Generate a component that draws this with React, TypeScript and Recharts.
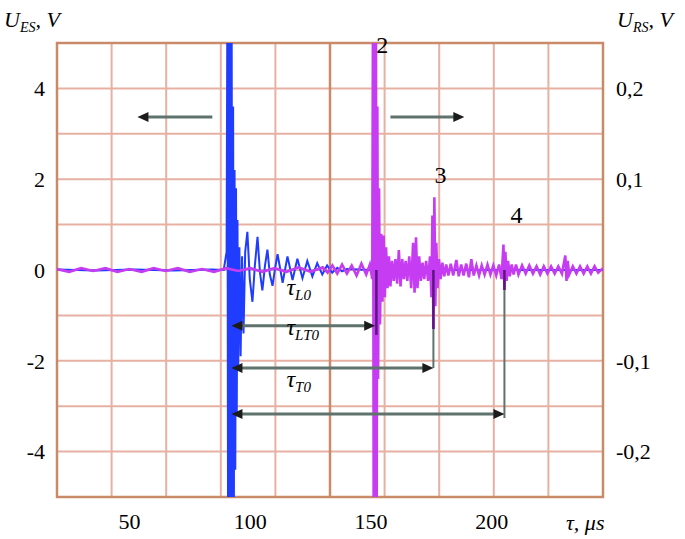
import {
  LineChart,
  Line,
  XAxis,
  YAxis,
  CartesianGrid,
  ReferenceLine,
  ReferenceArea,
  ReferenceDot,
} from "recharts";

// time axis, microseconds
const timeDomain: [number, number] = [20, 246];
const timeTicks = [50, 100, 150, 200];
const gridTicks = Array.from({ length: 11 }, (_, i) => timeDomain[0] + (i * (timeDomain[1] - timeDomain[0])) / 10);

// left axis U_ES (V), right axis U_RS (V)
const esTicks = [-5, -4, -3, -2, -1, 0, 1, 2, 3, 4, 5];
const esLabelled = [-4, -2, 0, 2, 4];
const rsTicks = [-0.2, -0.1, 0.1, 0.2];

// emitter signal [t, U_ES]
const esSamples: [number, number][] = [
  [20, 0.01], [36, -0.01], [52, 0.01], [68, -0.01], [84, 0.01], [89, 0], [90.2, 0.4],
  [90.5, 5.6], [90.8, -5.6], [91.1, 5.6], [91.4, -5.6], [91.7, 5.6], [92.0, -5.6], [92.3, 5.4],
  [92.6, -5.6], [92.9, 3.6], [93.2, -5.6], [93.5, 2.2], [93.8, -4.4], [94.1, 1.8], [94.4, -3.2],
  [94.7, 1.1], [95.0, -2.2], [95.5, 0.5], [96.0, -1.9], [96.6, 0.3], [97.2, -1.4], [97.9, 0.4],
  [98.8, 0.84], [99.8, -0.2], [100.9, -0.7], [101.9, 0.1], [103.0, 0.73], [104.0, -0.05],
  [105.0, -0.45], [106.1, 0.1], [107.1, 0.45], [108.1, -0.1], [109.2, -0.35], [110.3, 0.05],
  [111.3, 0.35], [113.4, -0.28], [115.4, 0.3], [117.5, -0.22], [119.5, 0.25], [121.6, -0.18],
  [123.6, 0.2], [125.7, -0.14], [127.7, 0.15], [129.8, -0.1], [131.8, 0.1], [133.9, -0.06],
  [136, 0.05], [138, -0.03], [140, 0.02], [150, 0], [246, 0],
];

// receiver signal [t, U_RS]
const rsSamples: [number, number][] = [
  [20, 0.001], [25, -0.002], [30, 0.002], [35, -0.001], [40, 0.002], [45, -0.002], [50, 0.001],
  [55, -0.002], [60, 0.002], [65, -0.001], [70, 0.002], [75, -0.002], [80, 0.001], [85, -0.002],
  [90, 0.002], [95, -0.001], [100, 0.002], [105, -0.002], [110, 0.002], [115, -0.002], [120, 0.003],
  [125, -0.002], [130, 0.003], [132, -0.003], [134, 0.005], [136, -0.004], [138, 0.006], [140, -0.004],
  [142, 0.005], [144, -0.006], [146, 0.007], [148, -0.005], [149.5, 0.006], [150.5, -0.01],
  [150.8, 0.3], [151.1, -0.3], [151.4, 0.3], [151.7, -0.3], [152.0, 0.3], [152.3, -0.3],
  [152.6, 0.18], [152.9, -0.12], [153.3, 0.09], [153.7, -0.06],
  [154.2, 0.04], [154.7, -0.035], [155.2, 0.038], [155.7, -0.03], [156.2, 0.025], [156.8, -0.02],
  [157.4, 0.015], [158, -0.018], [158.7, 0.01], [159.4, -0.012], [160.1, 0.012], [160.8, -0.015],
  [161.5, 0.022], [162.2, -0.018], [162.9, 0.012], [163.6, -0.01], [164.3, 0.01], [165.0, -0.012],
  [165.8, 0.015], [166.6, -0.02], [167.4, 0.03], [168.0, -0.025], [168.6, 0.036], [169.2, -0.02],
  [169.9, 0.015], [170.6, -0.012], [171.3, 0.008], [172.0, -0.01], [172.8, 0.01], [173.6, -0.012],
  [174.4, 0.015], [175.0, -0.03], [175.4, 0.06], [175.8, -0.065], [176.2, 0.08], [176.6, -0.04],
  [177.0, 0.03], [177.5, -0.02], [178.1, 0.012], [178.8, -0.01], [179.5, 0.008], [180.3, -0.007],
  [181.1, 0.006], [182, -0.006], [183, 0.007], [184, -0.006], [185.3, 0.011], [186.3, -0.007],
  [187.3, 0.006], [188.3, -0.006], [189.4, 0.007], [190.5, -0.008], [191.5, 0.012], [192.5, -0.006],
  [193.6, 0.005], [194.7, -0.006], [195.8, 0.005], [197, -0.005], [198.2, 0.006], [199.4, -0.005],
  [200.6, 0.005], [201.8, -0.006], [203, 0.006], [204, -0.01], [204.8, 0.028], [205.2, -0.022],
  [205.6, 0.02], [206.1, -0.012], [206.7, 0.01], [207.4, -0.007], [208.2, 0.006], [209, -0.005],
  [210, 0.006], [211, -0.005], [212.5, 0.005], [214, -0.004], [215.5, 0.005], [217, -0.004],
  [218.5, 0.004], [220, -0.005], [221.5, 0.004], [223, -0.004], [224.5, 0.004], [226, -0.004],
  [227.5, 0.004], [229, -0.004], [230.4, 0.016], [230.9, -0.012], [231.4, 0.01], [232, -0.005],
  [233.5, 0.004], [235, -0.004], [236.5, 0.004], [238, -0.004], [239.5, 0.004], [241, -0.004],
  [242.5, 0.004], [244, -0.003], [246, 0.002],
];

// annotations (es units on y)
const directionArrows = [
  { x1: 84.3, x2: 53.3, y: 3.37 },
  { x1: 158, x2: 188.6, y: 3.37 },
];
const delayArrows = [
  { x1: 92.2, x2: 151.7, y: -1.23 },
  { x1: 92.2, x2: 175.8, y: -2.16 },
  { x1: 92.2, x2: 205.2, y: -3.17 },
];
const connectors = [
  { x: 175.8, y1: -1.3, y2: -2.16 },
  { x: 205.2, y1: -0.44, y2: -3.26 },
];
const onsetMarks = [
  { x: 152.2, y2: -1.43 },
  { x: 175.8, y2: -1.3 },
  { x: 205.2, y2: -0.44 },
];
const peakLabels = [
  { x: 154.6, y: 4.96, text: "2" },
  { x: 178.7, y: 2.09, text: "3" },
  { x: 210.2, y: 1.21, text: "4" },
];
const delayLabels = [
  { x: 115, y: -0.55, sub: "L0" },
  { x: 115, y: -1.43, sub: "LT0" },
  { x: 115, y: -2.58, sub: "T0" },
];

const serif = '"Liberation Serif", "Times New Roman", serif';
const gridColor = "#e6b1a2";
const frameColor = "#c98a68";
const arrowColor = "#5f726d";

const esData = esSamples.map(([t, v]) => ({ t, v }));
const rsData = rsSamples.map(([t, v]) => ({ t, v }));

const arrowShape = (both: boolean) => (props: any) => {
  const { x1, y1, x2, y2 } = props;
  const dx = x2 - x1;
  const dy = y2 - y1;
  const len = Math.hypot(dx, dy) || 1;
  const ux = dx / len;
  const uy = dy / len;
  const head = (tx: number, ty: number, dirx: number, diry: number) => {
    const bx = tx - dirx * 11;
    const by = ty - diry * 11;
    return `${tx},${ty} ${bx - diry * 5},${by + dirx * 5} ${bx + diry * 5},${by - dirx * 5}`;
  };
  return (
    <g>
      <line
        x1={both ? x1 + ux * 8 : x1}
        y1={both ? y1 + uy * 8 : y1}
        x2={x2 - ux * 8}
        y2={y2 - uy * 8}
        stroke={arrowColor}
        strokeWidth={3}
      />
      <polygon points={head(x2, y2, ux, uy)} fill="#1c1c1c" />
      {both && <polygon points={head(x1, y1, -ux, -uy)} fill="#1c1c1c" />}
    </g>
  );
};

const TimeTick = (props: any) => {
  const { x, y, payload } = props;
  return (
    <text x={x} y={y} dy={32} textAnchor="middle" fill="#000" fontSize={22} fontFamily={serif}>
      {payload.value}
    </text>
  );
};

const App = () => {
  return (
    <div style={{ position: "absolute", left: 0, top: 0, width: 685, height: 539, background: "#fff" }}>
      <LineChart width={685} height={539} margin={{ top: 43, right: 0, bottom: 0, left: 0 }}>
        <CartesianGrid
          xAxisId="grid"
          yAxisId="es"
          stroke={gridColor}
          strokeWidth={2}
        />
        <XAxis
          xAxisId="main"
          type="number"
          dataKey="t"
          domain={timeDomain}
          ticks={timeTicks}
          allowDataOverflow
          axisLine={false}
          tickLine={false}
          tickSize={0}
          tickMargin={0}
          height={42}
          tick={<TimeTick />}
        />
        <XAxis
          xAxisId="grid"
          type="number"
          dataKey="t"
          domain={timeDomain}
          ticks={gridTicks}
          hide
          height={0}
          allowDataOverflow
        />
        <YAxis
          yAxisId="es"
          domain={[-5, 5]}
          ticks={esTicks}
          allowDataOverflow
          width={57}
          axisLine={false}
          tickLine={false}
          tickSize={0}
          tickMargin={12}
          tickFormatter={(v: number) => (esLabelled.includes(v) ? String(v) : "")}
          tick={{ fill: "#000", fontSize: 22, fontFamily: serif }}
        />
        <YAxis
          yAxisId="rs"
          orientation="right"
          domain={[-0.25, 0.25]}
          ticks={rsTicks}
          allowDataOverflow
          width={82}
          axisLine={false}
          tickLine={false}
          tickSize={0}
          tickMargin={13}
          tickFormatter={(v: number) => String(v).replace(".", ",")}
          tick={{ fill: "#000", fontSize: 22, fontFamily: serif, textAnchor: "start" }}
        />
        <ReferenceLine xAxisId="main" yAxisId="es" x={133} stroke={frameColor} strokeWidth={2.5} />
        <ReferenceArea
          xAxisId="main"
          yAxisId="es"
          x1={timeDomain[0]}
          x2={timeDomain[1]}
          y1={-5}
          y2={5}
          fill="none"
          stroke={frameColor}
          strokeWidth={2.5}
        />
        <Line
          xAxisId="main"
          yAxisId="es"
          data={esData}
          dataKey="v"
          type="linear"
          stroke="#1f3cff"
          strokeWidth={2}
          dot={false}
          isAnimationActive={false}
        />
        <Line
          xAxisId="main"
          yAxisId="rs"
          data={rsData}
          dataKey="v"
          type="linear"
          stroke="#c63cf2"
          strokeWidth={2.6}
          dot={false}
          isAnimationActive={false}
        />
        {onsetMarks.map((m, i) => (
          <ReferenceLine
            key={`m${i}`}
            xAxisId="main"
            yAxisId="es"
            segment={[{ x: m.x, y: 0 }, { x: m.x, y: m.y2 }]}
            stroke="#5b1580"
            strokeWidth={2.5}
          />
        ))}
        {connectors.map((c, i) => (
          <ReferenceLine
            key={`c${i}`}
            xAxisId="main"
            yAxisId="es"
            segment={[{ x: c.x, y: c.y1 }, { x: c.x, y: c.y2 }]}
            stroke={arrowColor}
            strokeWidth={2}
          />
        ))}
        {directionArrows.map((a, i) => (
          <ReferenceLine
            key={`d${i}`}
            xAxisId="main"
            yAxisId="es"
            segment={[{ x: a.x1, y: a.y }, { x: a.x2, y: a.y }]}
            shape={arrowShape(false)}
          />
        ))}
        {delayArrows.map((a, i) => (
          <ReferenceLine
            key={`a${i}`}
            xAxisId="main"
            yAxisId="es"
            segment={[{ x: a.x1, y: a.y }, { x: a.x2, y: a.y }]}
            shape={arrowShape(true)}
          />
        ))}
        {peakLabels.map((p, i) => (
          <ReferenceDot
            key={`p${i}`}
            xAxisId="main"
            yAxisId="es"
            x={p.x}
            y={p.y}
            r={0}
            shape={(props: any) => (
              <text
                x={props.cx}
                y={props.cy}
                textAnchor="middle"
                dominantBaseline="central"
                fontSize={24}
                fontFamily={serif}
                fill="#000"
              >
                {p.text}
              </text>
            )}
          />
        ))}
        {delayLabels.map((d, i) => (
          <ReferenceDot
            key={`l${i}`}
            xAxisId="main"
            yAxisId="es"
            x={d.x}
            y={d.y}
            r={0}
            shape={(props: any) => (
              <text x={props.cx} y={props.cy} fontFamily={serif} fontStyle="italic" fill="#000" fontSize={24}>
                τ
                <tspan fontSize={15} dy={5}>
                  {d.sub}
                </tspan>
              </text>
            )}
          />
        ))}
      </LineChart>
      <svg
        width={685}
        height={539}
        style={{ position: "absolute", left: 0, top: 0, pointerEvents: "none" }}
      >
        <text x={4} y={27} fontFamily={serif} fontStyle="italic" fontSize={22} fill="#000">
          U<tspan fontSize={14} dy={5}>ES</tspan>
          <tspan dy={-5}>, V</tspan>
        </text>
        <text x={617} y={27} fontFamily={serif} fontStyle="italic" fontSize={22} fill="#000">
          U<tspan fontSize={14} dy={5}>RS</tspan>
          <tspan dy={-5}>, V</tspan>
        </text>
        <text x={566} y={530} fontFamily={serif} fontStyle="italic" fontSize={22} fill="#000">
          τ, μs
        </text>
      </svg>
    </div>
  );
};

export default App;
